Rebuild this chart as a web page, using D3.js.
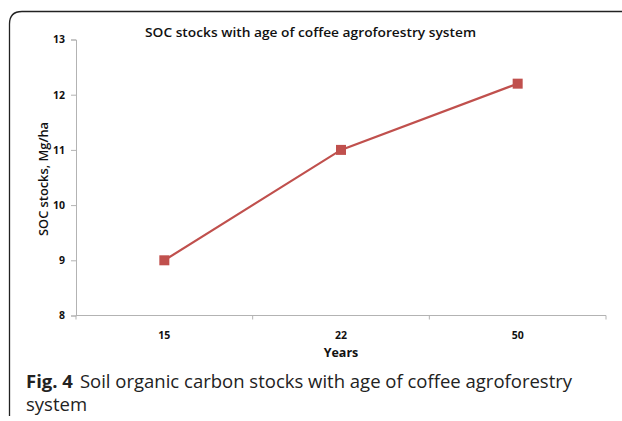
<!DOCTYPE html>
<html>
<head>
<meta charset="utf-8">
<script src="https://cdn.jsdelivr.net/npm/d3@7"></script>
<style>
  html, body { margin: 0; padding: 0; background: #fff; }
  svg { display: block; }
</style>
</head>
<body>
<svg id="chart" width="622" height="421"></svg>
<script>
// Soil organic carbon stocks by age of the coffee agroforestry system
const years = ["15", "22", "50"];
const socStocks = [9.0, 11.0, 12.2];
const yTicks = [8, 9, 10, 11, 12, 13];

const svg = d3.select("#chart");
const W = 622, H = 421;
const plot = { left: 76, right: 606, top: 39.5, bottom: 315.5 };

// Panel frame: rounded top-left corner, open on the right and bottom
svg.append("path")
  .attr("d", `M9.5,416 L9.5,24 Q9.5,11.5 22,11.5 L${W},11.5`)
  .attr("fill", "none")
  .attr("stroke", "#222")
  .attr("stroke-width", 1.3);

const x = d3.scaleBand().domain(years).range([plot.left, plot.right]).padding(0);
const y = d3.scaleLinear().domain([8, 13]).range([plot.bottom, plot.top]);

const axisColor = "#b3b3b3";
const tickFont = "'Open Sans', sans-serif";

// Y axis
const yAxis = svg.append("g")
  .attr("transform", `translate(${plot.left},0)`)
  .call(d3.axisLeft(y).tickValues(yTicks).tickFormat(d3.format("d")).tickSize(5).tickPadding(6));
yAxis.select(".domain").attr("stroke", axisColor);
yAxis.selectAll(".tick line").attr("stroke", axisColor);
yAxis.selectAll(".tick text")
  .attr("fill", "#111")
  .style("font-family", tickFont)
  .style("font-size", "10.5px")
  .style("font-weight", "bold");

// X axis with ticks at category boundaries
const boundaries = years.map(d => x(d)).concat([plot.right]);
const xAxisG = svg.append("g");
xAxisG.append("line")
  .attr("x1", plot.left).attr("x2", plot.right)
  .attr("y1", plot.bottom).attr("y2", plot.bottom)
  .attr("stroke", axisColor);
xAxisG.selectAll("line.tk").data(boundaries).join("line")
  .attr("class", "tk")
  .attr("x1", d => d).attr("x2", d => d)
  .attr("y1", plot.bottom).attr("y2", plot.bottom + 4)
  .attr("stroke", axisColor);
xAxisG.selectAll("text").data(years).join("text")
  .attr("x", d => x(d) + x.bandwidth() / 2)
  .attr("y", plot.bottom + 23)
  .attr("text-anchor", "middle")
  .attr("fill", "#111")
  .style("font-family", tickFont)
  .style("font-size", "10.5px")
  .style("font-weight", "bold")
  .text(d => d);

// Series line and square markers
const pts = years.map((d, i) => [x(d) + x.bandwidth() / 2, y(socStocks[i])]);
svg.append("path")
  .datum(pts)
  .attr("d", d3.line())
  .attr("fill", "none")
  .attr("stroke", "#c0504d")
  .attr("stroke-width", 2.2);
svg.selectAll("rect.mk").data(pts).join("rect")
  .attr("class", "mk")
  .attr("x", d => d[0] - 5).attr("y", d => d[1] - 5)
  .attr("width", 10).attr("height", 10)
  .attr("fill", "#c0504d");

// Chart title
svg.append("text")
  .attr("x", 310.5).attr("y", 37)
  .attr("text-anchor", "middle")
  .attr("textLength", 331)
  .attr("lengthAdjust", "spacingAndGlyphs")
  .style("font-family", "'Open Sans', sans-serif")
  .style("font-size", "13px")
  .style("font-weight", "600")
  .attr("fill", "#111")
  .text("SOC stocks with age of coffee agroforestry system");

// Axis titles
svg.append("text")
  .attr("transform", "translate(48,179) rotate(-90)")
  .attr("text-anchor", "middle")
  .attr("textLength", 114)
  .attr("lengthAdjust", "spacingAndGlyphs")
  .style("font-family", "'Open Sans', sans-serif")
  .style("font-size", "13px")
  .style("font-weight", "600")
  .attr("fill", "#111")
  .text("SOC stocks, Mg/ha");

svg.append("text")
  .attr("x", 341).attr("y", 357)
  .attr("text-anchor", "middle")
  .style("font-family", "'Open Sans', sans-serif")
  .style("font-size", "12.5px")
  .style("font-weight", "bold")
  .attr("fill", "#111")
  .text("Years");

// Figure caption
const cap = svg.append("text")
  .attr("x", 26).attr("y", 388)
  .style("font-family", "'Open Sans', sans-serif")
  .style("font-size", "18.5px")
  .attr("fill", "#222");
cap.append("tspan").style("font-weight", "bold").text("Fig. 4");
cap.append("tspan").attr("dx", 7).text("Soil organic carbon stocks with age of coffee agroforestry");
svg.append("text")
  .attr("x", 26).attr("y", 411)
  .style("font-family", "'Open Sans', sans-serif")
  .style("font-size", "18.5px")
  .attr("fill", "#222")
  .text("system");
</script>
</body>
</html>
